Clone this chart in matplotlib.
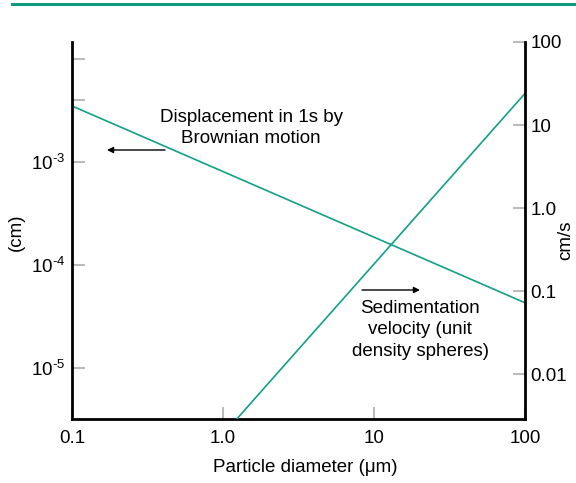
import matplotlib.pyplot as plt
from matplotlib.ticker import FixedLocator, NullLocator, NullFormatter

plt.rcParams['font.family'] = ['Liberation Sans', 'DejaVu Sans']
plt.rcParams['mathtext.fontset'] = 'custom'
plt.rcParams['mathtext.rm'] = 'Liberation Sans'
plt.rcParams['mathtext.it'] = 'Liberation Sans:italic'

# particle diameter (um) end points of each straight line
brown_d = [0.1, 100]
brown_disp = [3.5e-3, 4.3e-5]      # displacement in 1 s (cm)
sed_d = [1.24, 100]
sed_vel = [0.0029, 24]             # settling velocity (cm/s)

x_ticks = [0.1, 1, 10, 100]
x_labels = ['0.1', '1.0', '10', '100']
left_ticks = [1e-3, 1e-4, 1e-5]
left_labels = [r'$10^{\text{-}3}$', r'$10^{\text{-}4}$', r'$10^{\text{-}5}$']
left_minor = [4e-3, 1e-2]
right_ticks = [100, 10, 1, 0.1, 0.01]
right_labels = ['100', '10', '1.0', '0.1', '0.01']

teal = '#13a086'
tick_grey = '#bbbbbb'
fs = 13.5

W, H = 576, 483
fig = plt.figure(figsize=(W / 100, H / 100), dpi=100)
ax = fig.add_axes([72 / W, 64 / H, 453 / W, 377 / H])
ax2 = ax.twinx()

# rule across the top of the page
fig.add_artist(plt.Line2D([12 / W, 1], [479 / H, 479 / H],
                          color='#0e9a80', lw=2.2))

ax.set_xscale('log')
ax.set_yscale('log')
ax2.set_yscale('log')
ax.set_xlim(0.1, 100)
ax.set_ylim(10 ** -5.495, 10 ** -1.835)
ax2.set_ylim(0.00287, 100)

ax.plot(brown_d, brown_disp, color=teal, lw=1.2)
ax2.plot(sed_d, sed_vel, color=teal, lw=1.2)

for a in (ax, ax2):
    a.spines['top'].set_visible(False)
    for s in a.spines.values():
        s.set_linewidth(2)
ax.spines['right'].set_visible(False)
ax2.spines['left'].set_visible(False)
ax2.spines['bottom'].set_visible(False)

ax.xaxis.set_major_locator(FixedLocator(x_ticks))
ax.set_xticklabels(x_labels)
ax.xaxis.set_minor_locator(NullLocator())
ax.yaxis.set_major_locator(FixedLocator(left_ticks))
ax.set_yticklabels(left_labels)
ax.yaxis.set_minor_locator(FixedLocator(left_minor))
ax.yaxis.set_minor_formatter(NullFormatter())
ax2.yaxis.set_major_locator(FixedLocator(right_ticks))
ax2.set_yticklabels(right_labels)
ax2.yaxis.set_minor_locator(NullLocator())

ax.tick_params(axis='x', direction='in', length=9, width=1.5, color=tick_grey,
               labelsize=fs, pad=8)
ax.tick_params(axis='y', which='both', direction='in', length=9, width=1.5,
               color=tick_grey, labelsize=fs, pad=5)
ax2.tick_params(axis='y', direction='in', length=9, width=1.5, color=tick_grey,
                labelsize=fs, pad=4)


def px(x, y):
    # pixel position from the top-left corner -> figure fraction
    return x / W, 1 - y / H


fig.text(*px(305, 468), 'Particle diameter (\u03bcm)', fontsize=fs,
         ha='center', va='center')
fig.text(*px(16, 232), '(cm)', fontsize=fs, rotation=90,
         ha='center', va='center')
fig.text(*px(566, 240), 'cm/s', fontsize=fs, rotation=90,
         ha='center', va='center')

fig.text(*px(251, 128), 'Displacement in 1s by\nBrownian motion',
         fontsize=fs, ha='center', va='center', linespacing=1.35)
fig.text(*px(420, 330), 'Sedimentation\nvelocity (unit\ndensity spheres)',
         fontsize=fs, ha='center', va='center', linespacing=1.35)

arrow = dict(arrowstyle='-|>', color='black', lw=1, mutation_scale=9,
             shrinkA=0, shrinkB=0)
fig.add_artist(plt.Annotation('', xy=px(107, 150), xytext=px(165, 150),
                              xycoords='figure fraction',
                              textcoords='figure fraction', arrowprops=arrow))
fig.add_artist(plt.Annotation('', xy=px(420, 290), xytext=px(362, 290),
                              xycoords='figure fraction',
                              textcoords='figure fraction', arrowprops=arrow))

fig.savefig('out.png', dpi=100)
